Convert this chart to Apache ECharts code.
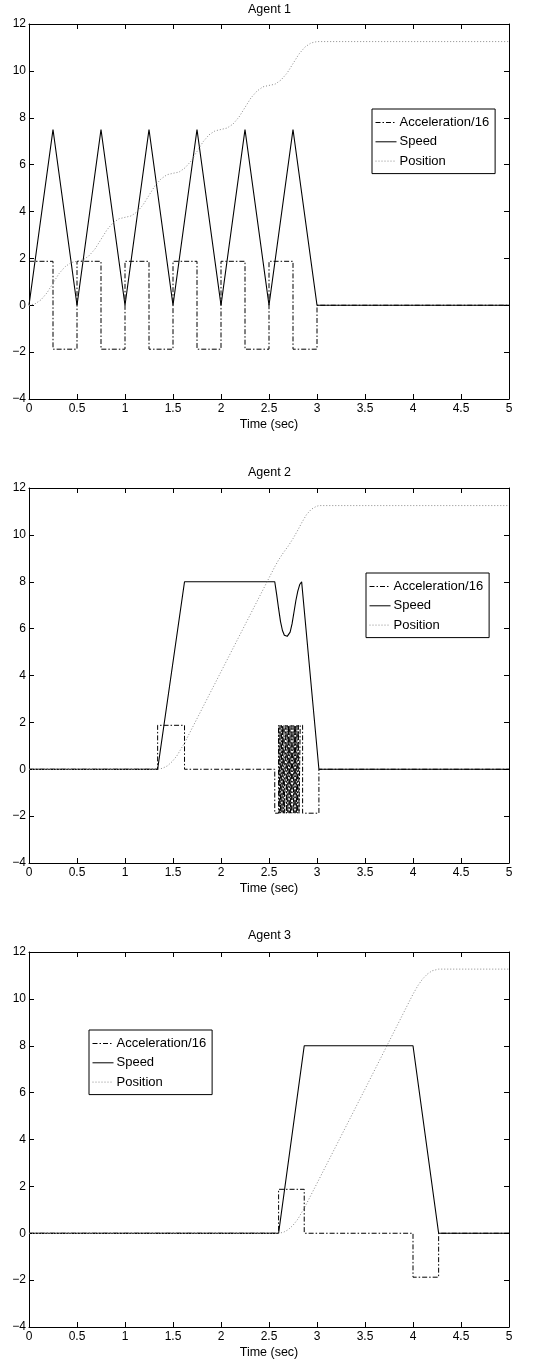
<!DOCTYPE html>
<html>
<head>
<meta charset="utf-8">
<script src="https://cdn.jsdelivr.net/npm/echarts@6/dist/echarts.min.js"></script>
<style>
html,body{margin:0;padding:0;background:#fff;}
#chart{width:539px;height:1360px;}
</style>
</head>
<body>
<div id="chart"></div>
<script>
// ---------- data ----------
const titles = ['Agent 1', 'Agent 2', 'Agent 3'];
const seriesNames = ['Acceleration/16', 'Speed', 'Position'];
const xTicks = { min: 0, max: 5, interval: 0.5 };
const yTicks = { min: -4, max: 12, interval: 2 };

// Agent 1
const acc1T = [0, 0.25, 0.5, 0.75, 1, 1.25, 1.5, 1.75, 2, 2.25, 2.5, 2.75, 3, 5];
const acc1V = [1.875, -1.875, 1.875, -1.875, 1.875, -1.875, 1.875, -1.875, 1.875, -1.875, 1.875, -1.875, 0, 0];
const spd1T = [0, 0.25, 0.5, 0.75, 1, 1.25, 1.5, 1.75, 2, 2.25, 2.5, 2.75, 3, 5];
const spd1V = [0, 7.5, 0, 7.5, 0, 7.5, 0, 7.5, 0, 7.5, 0, 7.5, 0, 0];
const pos1T = [0, 0.0625, 0.125, 0.1875, 0.25, 0.3125, 0.375, 0.4375,
  0.5, 0.5625, 0.625, 0.6875, 0.75, 0.8125, 0.875, 0.9375,
  1, 1.0625, 1.125, 1.1875, 1.25, 1.3125, 1.375, 1.4375,
  1.5, 1.5625, 1.625, 1.6875, 1.75, 1.8125, 1.875, 1.9375,
  2, 2.0625, 2.125, 2.1875, 2.25, 2.3125, 2.375, 2.4375,
  2.5, 2.5625, 2.625, 2.6875, 2.75, 2.8125, 2.875, 2.9375,
  3, 5];
const pos1V = [0, 0.06, 0.23, 0.53, 0.94, 1.35, 1.64, 1.82,
  1.88, 1.93, 2.11, 2.40, 2.81, 3.22, 3.52, 3.69,
  3.75, 3.81, 3.98, 4.28, 4.69, 5.10, 5.39, 5.57,
  5.63, 5.68, 5.86, 6.15, 6.56, 6.97, 7.27, 7.44,
  7.50, 7.56, 7.73, 8.03, 8.44, 8.85, 9.14, 9.32,
  9.38, 9.43, 9.61, 9.90, 10.31, 10.72, 11.02, 11.19,
  11.25, 11.25];

// Agent 2
const acc2T = [0, 1.34, 1.62, 2.56,
  2.600, 2.607, 2.614, 2.621, 2.628, 2.635, 2.642, 2.649, 2.656, 2.663,
  2.675, 2.682, 2.689, 2.696, 2.703, 2.710, 2.717, 2.724, 2.731, 2.738,
  2.750, 2.757, 2.764, 2.771, 2.778, 2.785, 2.792, 2.799, 2.806, 2.813, 2.825,
  2.85, 3.02, 5];
const acc2V = [0, 1.875, 0, -1.875,
  1.875, -1.875, 1.875, -1.875, 1.875, -1.875, 1.875, -1.875, 1.875, -1.875,
  1.875, -1.875, 1.875, -1.875, 1.875, -1.875, 1.875, -1.875, 1.875, -1.875,
  1.875, -1.875, 1.875, -1.875, 1.875, -1.875, 1.875, -1.875, 1.875, -1.875, 1.875,
  -1.875, 0, 0];
const spd2T = [0, 1.34, 1.62, 2.56, 2.58, 2.60, 2.62, 2.64, 2.66, 2.69, 2.72, 2.74, 2.76, 2.78, 2.80, 2.82, 2.84, 3.02, 5];
const spd2V = [0, 0, 8, 8, 7.45, 6.85, 6.3, 5.92, 5.72, 5.67, 5.85, 6.2, 6.7, 7.2, 7.6, 7.88, 8, 0, 0];
const pos2T = [0, 1.34, 1.39, 1.44, 1.49, 1.54, 1.62, 2.0, 2.56, 2.6, 2.65, 2.7, 2.75, 2.8, 2.84, 2.89, 2.94, 2.99, 3.02, 5];
const pos2V = [0, 0, 0.04, 0.14, 0.32, 0.57, 1.12, 4.16, 8.64, 8.93, 9.24, 9.52, 9.84, 10.2, 10.51, 10.86, 11.09, 11.21, 11.25, 11.25];

// Agent 3
const acc3T = [0, 2.6, 2.867, 4.0, 4.267, 5];
const acc3V = [0, 1.875, 0, -1.875, 0, 0];
const spd3T = [0, 2.6, 2.867, 4.0, 4.267, 5];
const spd3V = [0, 0, 8, 8, 0, 0];
const pos3T = [0, 2.6, 2.65, 2.7, 2.75, 2.8, 2.867, 3.0, 3.5, 4.0, 4.05, 4.1, 4.15, 4.2, 4.267, 5];
const pos3V = [0, 0, 0.04, 0.15, 0.34, 0.6, 1.07, 2.13, 6.15, 10.2, 10.56, 10.85, 11.06, 11.2, 11.27, 11.27];

// ---------- layout / style ----------
const FONT = 'Liberation Sans, Arial, Helvetica, sans-serif';
const gridTops = [24, 488, 952];
const gridH = 375;
const titleTops = [3.5, 466, 929.5];
const legendPos = [[372, 109], [366, 573], [89, 1030]];

const agents = [
  { acc: [acc1T, acc1V], spd: [spd1T, spd1V], pos: [pos1T, pos1V] },
  { acc: [acc2T, acc2V], spd: [spd2T, spd2V], pos: [pos2T, pos2V] },
  { acc: [acc3T, acc3V], spd: [spd3T, spd3V], pos: [pos3T, pos3V] }
];

function pairs(t, v) { return t.map((x, i) => [x, v[i]]); }

const grid = [], xAxis = [], yAxis = [], series = [], title = [], legend = [];
const tickStyle = { show: true, inside: true, length: 5, lineStyle: { color: '#000', width: 1 } };
const lineStyleAx = { show: true, onZero: false, lineStyle: { color: '#000', width: 1 } };

agents.forEach((ag, i) => {
  grid.push({ left: 29, right: 30, top: gridTops[i], height: gridH, containLabel: false });
  title.push({
    text: titles[i], left: 'center', top: titleTops[i], padding: 0,
    textStyle: { fontFamily: FONT, fontSize: 12.5, fontWeight: 'normal', color: '#000' }
  });
  xAxis.push({
    type: 'value', gridIndex: i, position: 'bottom', min: xTicks.min, max: xTicks.max, interval: xTicks.interval,
    axisLine: lineStyleAx, axisTick: tickStyle, splitLine: { show: false },
    axisLabel: { show: true, margin: 4, color: '#000', fontFamily: FONT, fontSize: 12, showMinLabel: true, showMaxLabel: true },
    name: 'Time (sec)', nameLocation: 'middle', nameGap: 19,
    nameTextStyle: { fontFamily: FONT, fontSize: 12.5, color: '#000' }
  });
  xAxis.push({
    type: 'value', gridIndex: i, position: 'top', min: xTicks.min, max: xTicks.max, interval: xTicks.interval,
    axisLine: lineStyleAx, axisTick: tickStyle, splitLine: { show: false }, axisLabel: { show: false }
  });
  yAxis.push({
    type: 'value', gridIndex: i, position: 'left', min: yTicks.min, max: yTicks.max, interval: yTicks.interval,
    axisLine: lineStyleAx, axisTick: tickStyle, splitLine: { show: false },
    axisLabel: {
      show: true, margin: 3, color: '#000', fontFamily: FONT, fontSize: 12,
      formatter: v => (v < 0 ? '\u2212' + Math.abs(v) : String(v))
    }
  });
  yAxis.push({
    type: 'value', gridIndex: i, position: 'right', min: yTicks.min, max: yTicks.max, interval: yTicks.interval,
    axisLine: lineStyleAx, axisTick: tickStyle, splitLine: { show: false }, axisLabel: { show: false }
  });
  const xi = 2 * i, yi = 2 * i;
  series.push({
    name: seriesNames[0], type: 'line', xAxisIndex: xi, yAxisIndex: yi, step: 'end',
    data: pairs(ag.acc[0], ag.acc[1]), symbol: 'none', animation: false, silent: true,
    lineStyle: { color: '#000', width: 1, type: [5, 2, 1.5, 2] }, itemStyle: { color: '#000' }
  });
  series.push({
    name: seriesNames[1], type: 'line', xAxisIndex: xi, yAxisIndex: yi,
    data: pairs(ag.spd[0], ag.spd[1]), symbol: 'none', animation: false, silent: true,
    lineStyle: { color: '#000', width: 1.1, type: 'solid' }, itemStyle: { color: '#000' }
  });
  series.push({
    name: seriesNames[2], type: 'line', xAxisIndex: xi, yAxisIndex: yi,
    data: pairs(ag.pos[0], ag.pos[1]), symbol: 'none', animation: false, silent: true,
    lineStyle: { color: '#8a8a8a', width: 1, type: [1, 2] }, itemStyle: { color: '#8a8a8a' }
  });
  legend.push({
    data: seriesNames, orient: 'vertical', left: legendPos[i][0], top: legendPos[i][1],
    padding: [7, 6, 6, 3], itemWidth: 21, itemHeight: 14, itemGap: 6.3,
    backgroundColor: '#fff', borderColor: '#000', borderWidth: 1, borderRadius: 0,
    selectedMode: false,
    itemStyle: { opacity: 0 },
    lineStyle: { width: 1, inactiveColor: '#000' },
    textStyle: { fontFamily: FONT, fontSize: 13, color: '#000', padding: [0, 0, 0, -2] }
  });
});

const chart = echarts.init(document.getElementById('chart'), null, { renderer: 'canvas', width: 539, height: 1360 });
chart.setOption({ animation: false, backgroundColor: '#fff', title, legend, grid, xAxis, yAxis, series });
</script>
</body>
</html>
